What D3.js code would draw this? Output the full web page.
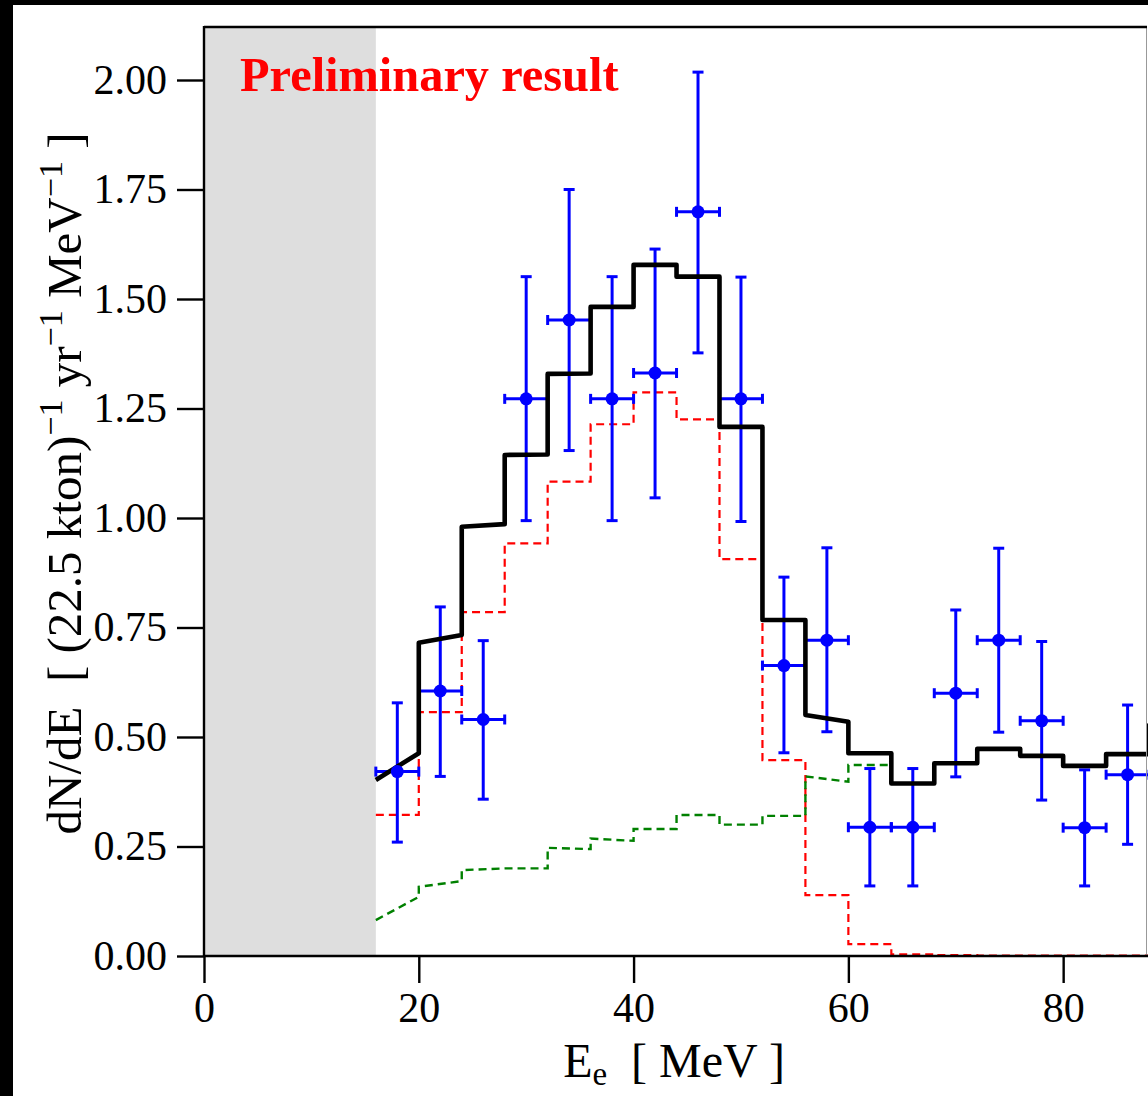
<!DOCTYPE html>
<html>
<head>
<meta charset="utf-8">
<script src="https://cdn.jsdelivr.net/npm/d3@7"></script>
<style>
  html, body { margin: 0; padding: 0; background: #ffffff; }
  svg { display: block; }
  text { font-family: "Liberation Serif", "DejaVu Serif", serif; }
</style>
</head>
<body>
<div id="chart"></div>
<script>
// ---------------- data ----------------
// bin lower edges (MeV), bin width 4
const binEdges = [16, 20, 24, 28, 32, 36, 40, 44, 48, 52, 56, 60, 64, 68, 72, 76, 80, 84, 88];
// total model (black), value at the left / right end of each bin
const totalLeft  = [0.402, 0.715, 0.980, 1.144, 1.329, 1.482, 1.578, 1.551, 1.208, 0.767, 0.550, 0.463, 0.394, 0.440, 0.473, 0.457, 0.434, 0.461, 0.527];
const totalRight = [0.463, 0.733, 0.986, 1.145, 1.330, 1.482, 1.578, 1.551, 1.208, 0.767, 0.535, 0.463, 0.394, 0.440, 0.473, 0.457, 0.434, 0.461, 0.527];
// signal component (red dashed)
const signalVals = [0.322, 0.557, 0.785, 0.942, 1.083, 1.214, 1.287, 1.225, 0.906, 0.447, 0.139, 0.027, 0.004, 0.002, 0.001, 0.001, 0.001, 0.001, 0.001];
// background component (green dashed), bins 16..64
const bkgEdges = [16, 20, 24, 28, 32, 36, 40, 44, 48, 52, 56, 60];
const bkgLeft  = [0.082, 0.158, 0.196, 0.200, 0.247, 0.268, 0.290, 0.322, 0.300, 0.320, 0.410, 0.436];
const bkgRight = [0.135, 0.171, 0.200, 0.200, 0.244, 0.263, 0.290, 0.322, 0.300, 0.320, 0.398, 0.436];
// data points (blue)
const dataE    = [18, 22, 26, 30, 34, 38, 42, 46, 50, 54, 58, 62, 66, 70, 74, 78, 82, 86];
const dataVal  = [0.421, 0.605, 0.540, 1.272, 1.452, 1.272, 1.331, 1.699, 1.272, 0.663, 0.721, 0.294, 0.294, 0.600, 0.721, 0.537, 0.293, 0.414];
const dataHi   = [0.578, 0.797, 0.720, 1.551, 1.750, 1.551, 1.614, 2.018, 1.550, 0.865, 0.932, 0.428, 0.428, 0.790, 0.931, 0.718, 0.425, 0.573];
const dataLo   = [0.260, 0.410, 0.358, 0.994, 1.154, 0.994, 1.046, 1.377, 0.992, 0.464, 0.512, 0.160, 0.160, 0.409, 0.511, 0.356, 0.160, 0.255];
const binHalf = 2;
const thresholdE = 16;
const xTicks = [0, 20, 40, 60, 80];
const yTicks = [0, 0.25, 0.5, 0.75, 1.0, 1.25, 1.5, 1.75, 2.0];

// ---------------- layout ----------------
const W = 1148, H = 1096;
const L = 204, R = 1147, T = 27, B = 956;

const svg = d3.select("#chart").append("svg").attr("width", W).attr("height", H);
svg.append("rect").attr("width", W).attr("height", H).attr("fill", "#ffffff");
// screenshot edges
svg.append("rect").attr("x", 0).attr("y", 0).attr("width", 13).attr("height", H).attr("fill", "#000");
svg.append("rect").attr("x", 0).attr("y", 0).attr("width", W).attr("height", 5).attr("fill", "#000");

const x = d3.scaleLinear().domain([0, 87.9]).range([L, 1148]);
const y = d3.scaleLinear().domain([0, 2.0]).range([B, 80]);

svg.append("clipPath").attr("id", "plotclip")
  .append("rect").attr("x", L).attr("y", T).attr("width", W - L).attr("height", B - T);

// threshold shaded region
svg.append("rect").attr("x", x(0)).attr("y", T).attr("width", x(thresholdE) - x(0)).attr("height", B - T)
  .attr("fill", "#dedede");

const plot = svg.append("g").attr("clip-path", "url(#plotclip)");

// step path builders
function stepFlat(edges, vals) {
  const pts = [];
  edges.forEach((e, i) => { pts.push([e, vals[i]]); pts.push([e + 4, vals[i]]); });
  return pts;
}
function stepSloped(edges, lv, rv) {
  const pts = [];
  edges.forEach((e, i) => { pts.push([e, lv[i]]); pts.push([e + 4, rv[i]]); });
  return pts;
}
const line = d3.line().x(d => x(d[0])).y(d => y(d[1]));

plot.append("path").attr("d", line(stepFlat(binEdges, signalVals)))
  .attr("fill", "none").attr("stroke", "#ff0000").attr("stroke-width", 2.2)
  .attr("stroke-dasharray", "8,5");

plot.append("path").attr("d", line(stepSloped(bkgEdges, bkgLeft, bkgRight)))
  .attr("fill", "none").attr("stroke", "#008000").attr("stroke-width", 2.4)
  .attr("stroke-dasharray", "8,5");

// data error bars
const eb = plot.append("g").attr("stroke", "#0000ff").attr("stroke-width", 3);
dataE.forEach((e, i) => {
  eb.append("line").attr("x1", x(e)).attr("x2", x(e)).attr("y1", y(dataLo[i])).attr("y2", y(dataHi[i]));
  eb.append("line").attr("x1", x(e - binHalf)).attr("x2", x(e + binHalf)).attr("y1", y(dataVal[i])).attr("y2", y(dataVal[i]));
  [dataLo[i], dataHi[i]].forEach(v => {
    eb.append("line").attr("x1", x(e) - 5.5).attr("x2", x(e) + 5.5).attr("y1", y(v)).attr("y2", y(v));
  });
  [e - binHalf, e + binHalf].forEach(v => {
    eb.append("line").attr("x1", x(v)).attr("x2", x(v)).attr("y1", y(dataVal[i]) - 5).attr("y2", y(dataVal[i]) + 5);
  });
});

plot.append("path").attr("d", line(stepSloped(binEdges, totalLeft, totalRight)))
  .attr("fill", "none").attr("stroke", "#000").attr("stroke-width", 4.6)
  .attr("stroke-linejoin", "round");

plot.selectAll("circle.pt").data(dataE).enter().append("circle")
  .attr("cx", d => x(d)).attr("cy", (d, i) => y(dataVal[i])).attr("r", 6.5).attr("fill", "#0000ff");

// frame
svg.append("line").attr("x1", R - 0.5).attr("x2", R - 0.5).attr("y1", T).attr("y2", B).attr("stroke", "#999").attr("stroke-width", 1);
svg.append("line").attr("x1", L).attr("x2", R).attr("y1", T).attr("y2", T).attr("stroke", "#000").attr("stroke-width", 2.4);
svg.append("line").attr("x1", L).attr("x2", L).attr("y1", T - 1).attr("y2", B + 1).attr("stroke", "#000").attr("stroke-width", 2.4);
svg.append("line").attr("x1", L).attr("x2", W).attr("y1", B).attr("y2", B).attr("stroke", "#000").attr("stroke-width", 2.4);

// axes
const yAxis = svg.append("g").attr("transform", `translate(${L},0)`)
  .call(d3.axisLeft(y).tickValues(yTicks).tickFormat(d3.format(".2f")).tickSize(27).tickPadding(10));
const xAxis = svg.append("g").attr("transform", `translate(0,${B})`)
  .call(d3.axisBottom(x).tickValues(xTicks).tickFormat(d3.format("d")).tickSize(27).tickPadding(9));
[yAxis, xAxis].forEach(a => {
  a.select(".domain").remove();
  a.selectAll(".tick line").attr("stroke", "#000").attr("stroke-width", 2.4);
  a.selectAll(".tick text").attr("fill", "#000").style("font-family", '"Liberation Serif", serif').style("font-size", "42px");
});

// labels
svg.append("text").attr("x", 240).attr("y", 91).attr("fill", "#ff0000")
  .style("font-size", "48.4px").style("font-weight", "bold").text("Preliminary result");

const xl = svg.append("text").attr("x", 674).attr("y", 1077).attr("text-anchor", "middle")
  .style("font-size", "48px").attr("fill", "#000");
xl.append("tspan").text("E");
xl.append("tspan").attr("dy", 8).style("font-size", "33px").text("e");
xl.append("tspan").attr("dy", -8).text("\u00a0\u00a0[ MeV ]");

const yl = svg.append("text").attr("transform", `translate(81,${(T + B) / 2 - 8}) rotate(-90)`)
  .attr("text-anchor", "middle").style("font-size", "49px").attr("fill", "#000");
yl.append("tspan").text("dN/dE\u00a0\u00a0[ (22.5 kton)");
yl.append("tspan").attr("dy", -19).style("font-size", "34px").text("\u22121");
yl.append("tspan").attr("dy", 19).text(" yr");
yl.append("tspan").attr("dy", -19).style("font-size", "34px").text("\u22121");
yl.append("tspan").attr("dy", 19).text(" MeV");
yl.append("tspan").attr("dy", -19).style("font-size", "34px").text("\u22121");
yl.append("tspan").attr("dy", 19).text(" ]");
</script>
</body>
</html>
